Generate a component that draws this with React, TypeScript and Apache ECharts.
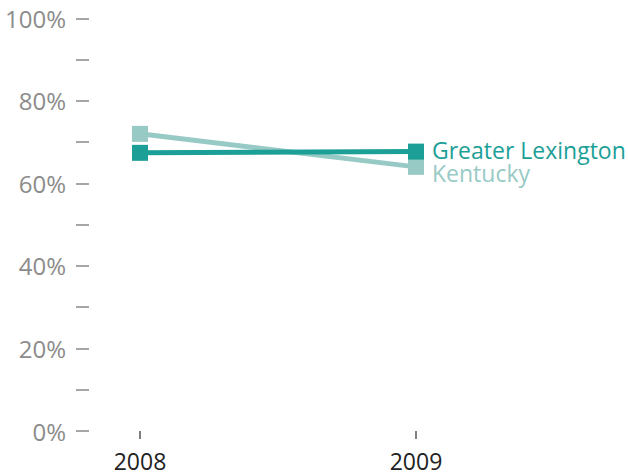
import React, { useEffect, useRef } from "react";
import * as echarts from "echarts";

const years = ["2008", "2009"];
const greaterLexington = [67.4, 67.7];
const kentucky = [72.0, 64.0];
const seriesNames = ["Greater Lexington", "Kentucky"];

export default function App() {
  const ref = useRef<HTMLDivElement>(null);
  useEffect(() => {
    const chart = echarts.init(ref.current!, null, { renderer: "svg" });
    const font = "'Open Sans', sans-serif";
    chart.setOption({
      animation: false,
      grid: { left: 140, right: 212, top: 18.3, bottom: 45, containLabel: false },
      xAxis: {
        type: "category",
        data: years,
        boundaryGap: false,
        offset: 5,
        axisLine: { show: false },
        axisTick: { show: true, length: 8, alignWithLabel: true, lineStyle: { color: "#555", width: 1.5 } },
        axisLabel: { color: "#222", fontSize: 23, lineHeight: 18, fontFamily: font, margin: 16 },
        splitLine: { show: false },
      },
      yAxis: {
        type: "value",
        min: 0,
        max: 100,
        interval: 10,
        offset: 51,
        axisLine: { show: false },
        axisTick: { show: true, length: 13, lineStyle: { color: "#888", width: 1.5 } },
        axisLabel: {
          color: "#8c8c8c",
          fontSize: 24,
          fontFamily: font,
          margin: 23,
          formatter: (v: number) => (v % 20 === 0 ? v + "%" : ""),
        },
        splitLine: { show: false },
      },
      series: [
        {
          name: seriesNames[1],
          type: "line",
          data: kentucky,
          symbol: "rect",
          symbolSize: 16,
          lineStyle: { color: "#98cac5", width: 5 },
          itemStyle: { color: "#98cac5" },
          label: {
            show: true,
            position: "right",
            distance: 8,
            offset: [0, 6],
            color: "#98cac5",
            fontSize: 23,
            lineHeight: 18,
            fontFamily: font,
            formatter: (p: any) => (p.dataIndex === 1 ? seriesNames[1] : ""),
          },
          z: 2,
        },
        {
          name: seriesNames[0],
          type: "line",
          data: greaterLexington,
          symbol: "rect",
          symbolSize: 16,
          lineStyle: { color: "#1c9f97", width: 5 },
          itemStyle: { color: "#1c9f97" },
          label: {
            show: true,
            position: "right",
            distance: 8,
            offset: [0, -2],
            color: "#1c9f97",
            fontSize: 23,
            lineHeight: 18,
            fontFamily: font,
            formatter: (p: any) => (p.dataIndex === 1 ? seriesNames[0] : ""),
          },
          z: 3,
        },
      ],
    });
    return () => chart.dispose();
  }, []);
  return <div ref={ref} style={{ width: 628, height: 476, position: "absolute", left: 0, top: 0 }} />;
}
